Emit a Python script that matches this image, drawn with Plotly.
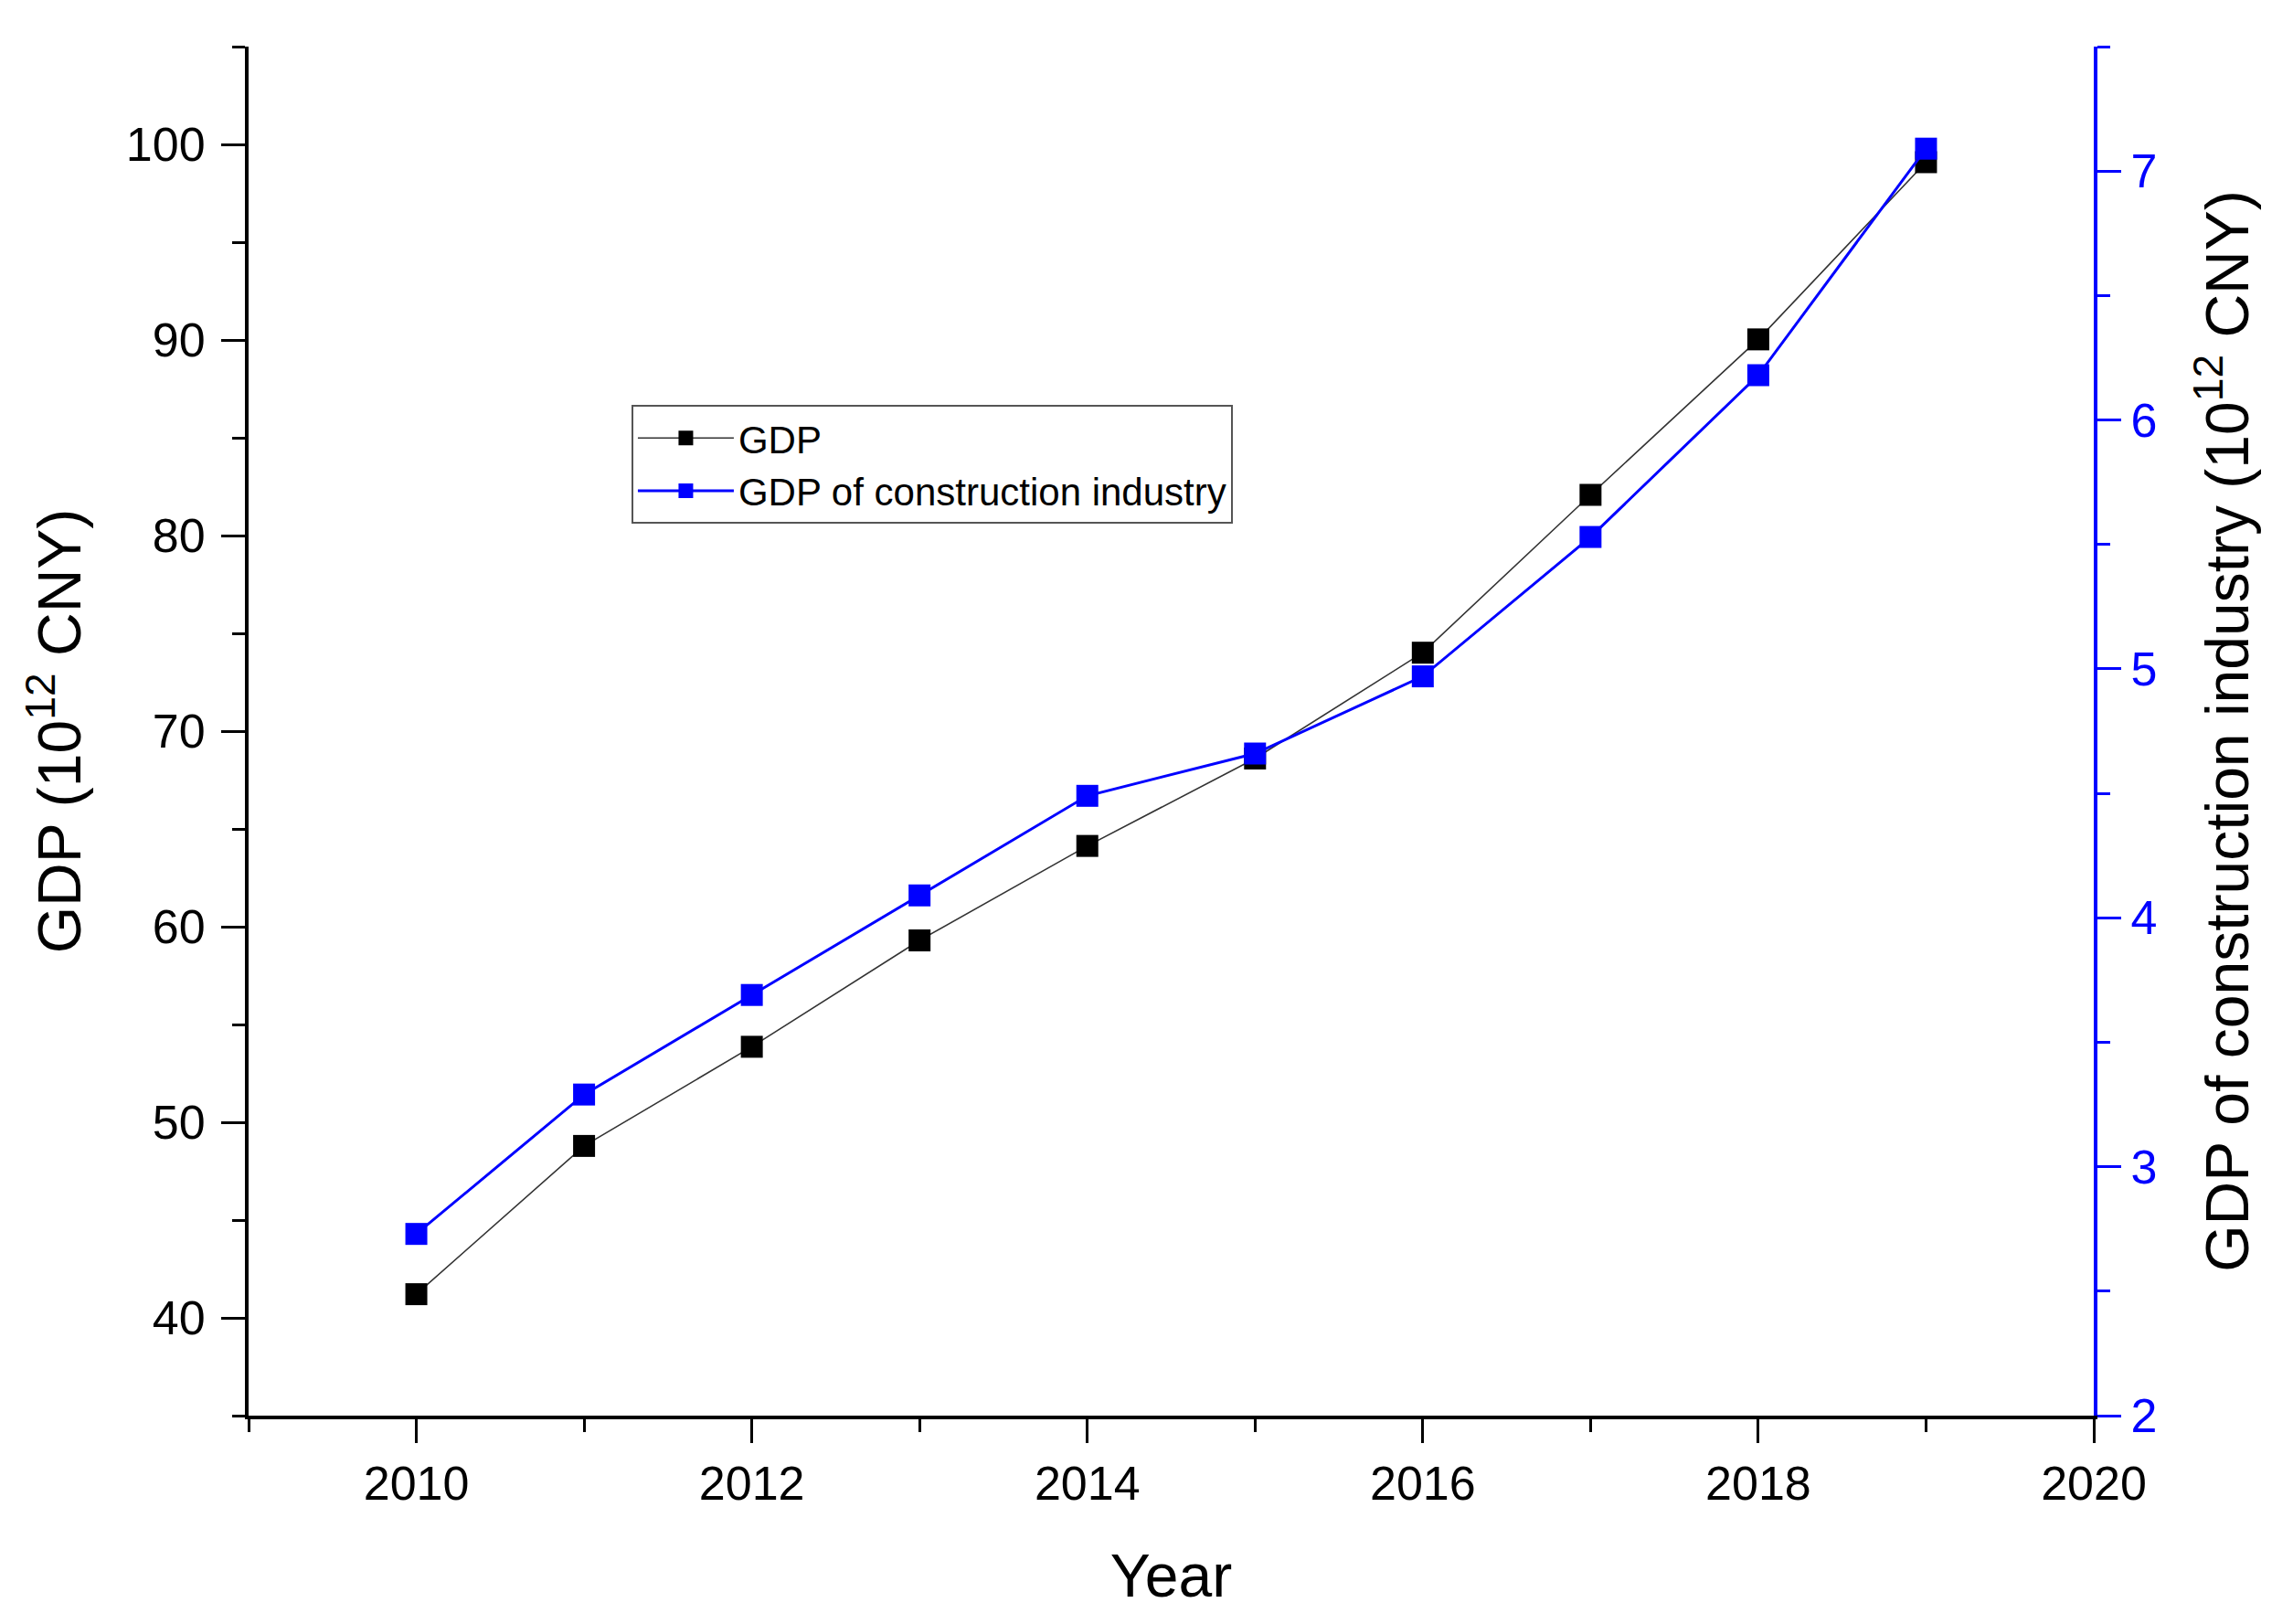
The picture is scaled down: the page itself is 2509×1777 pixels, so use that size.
import plotly.graph_objects as go

years = [2010, 2011, 2012, 2013, 2014, 2015, 2016, 2017, 2018, 2019]
gdp = [41.21, 48.79, 53.86, 59.30, 64.13, 68.60, 74.01, 82.08, 90.03, 99.09]
gdp_construction = [2.73, 3.29, 3.69, 4.09, 4.49, 4.66, 4.97, 5.53, 6.18, 7.09]

FONT = "Liberation Sans, Arial, sans-serif"

fig = go.Figure()
fig.add_trace(go.Scatter(
    x=years, y=gdp, name="GDP", mode="lines+markers",
    line=dict(color="#333333", width=1.6),
    marker=dict(symbol="square", size=24, color="black"),
    yaxis="y",
))
fig.add_trace(go.Scatter(
    x=years, y=gdp_construction, name="GDP of construction industry",
    mode="lines+markers",
    line=dict(color="#0000ff", width=3),
    marker=dict(symbol="square", size=24, color="#0000ff"),
    yaxis="y2",
))

fig.update_layout(
    width=2509, height=1777,
    margin=dict(l=264, r=226, t=43, b=236),
    paper_bgcolor="white", plot_bgcolor="white",
    font=dict(family=FONT, color="black", size=52),
    showlegend=True,
    legend=dict(
        x=0.2075, y=0.738, xanchor="left", yanchor="top",
        bordercolor="#555555", borderwidth=2, bgcolor="white",
        font=dict(family=FONT, size=42, color="black"),
        itemwidth=105, tracegroupgap=0,
    ),
    xaxis=dict(
        range=[2009, 2020], showgrid=False, zeroline=False,
        showline=True, linecolor="black", linewidth=4,
        ticks="outside", ticklen=26, tickwidth=3, tickcolor="black",
        tick0=2010, dtick=2,
        minor=dict(ticks="outside", ticklen=14, tickwidth=3, tickcolor="black", dtick=1, tick0=2009, showgrid=False),
        tickfont=dict(family=FONT, size=52, color="black"),
        title=dict(text="Year", font=dict(family=FONT, size=66, color="black"), standoff=50),
    ),
    yaxis=dict(
        range=[35, 105], showgrid=False, zeroline=False,
        showline=True, linecolor="black", linewidth=4,
        ticks="outside", ticklen=26, tickwidth=3, tickcolor="black",
        tick0=40, dtick=10, ticklabelstandoff=7,
        minor=dict(ticks="outside", ticklen=14, tickwidth=3, tickcolor="black", dtick=5, tick0=35, showgrid=False),
        tickfont=dict(family=FONT, size=52, color="black"),
        title=dict(text="GDP (10<sup>12</sup> CNY)", font=dict(family=FONT, size=66, color="black"), standoff=29),
    ),
    yaxis2=dict(
        range=[2, 7.5], overlaying="y", side="right", anchor="x",
        showgrid=False, zeroline=False,
        showline=True, linecolor="#0000ff", linewidth=4,
        ticks="outside", ticklen=26, tickwidth=3, tickcolor="#0000ff",
        tick0=2, dtick=1,
        minor=dict(ticks="outside", ticklen=14, tickwidth=3, tickcolor="#0000ff", dtick=0.5, tick0=2, showgrid=False),
        tickfont=dict(family=FONT, size=52, color="#0000ff"),
        title=dict(text="GDP of construction industry (10<sup>12</sup> CNY)", font=dict(family=FONT, size=66, color="black"), standoff=55),
    ),
)

fig.write_html("out.html")
